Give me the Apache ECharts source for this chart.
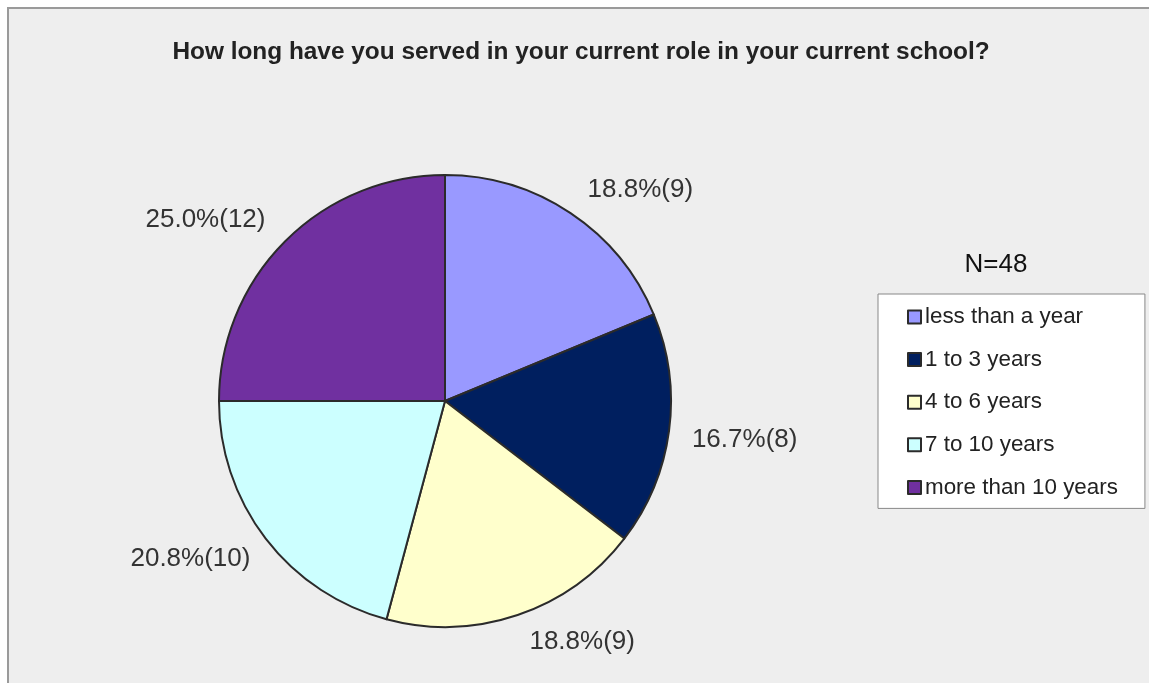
<!DOCTYPE html>
<html>
<head>
<meta charset="utf-8">
<script src="https://cdn.jsdelivr.net/npm/echarts@6/dist/echarts.min.js"></script>
<style>
  html, body { margin: 0; padding: 0; background: #ffffff; }
  #chart { width: 1149px; height: 683px; }
</style>
</head>
<body>
<div id="chart"></div>
<script>
// Survey answers: time served in current role at current school
const chartTitle = 'How long have you served in your current role in your current school?';
const sampleNote = 'N=48';
const categories = ['less than a year', '1 to 3 years', '4 to 6 years', '7 to 10 years', 'more than 10 years'];
const counts = [9, 8, 9, 10, 12];
const colors = ['#9999FF', '#001F5F', '#FFFFCC', '#CCFFFF', '#7030A0'];

const total = counts.reduce((a, b) => a + b, 0);
const font = '"Liberation Sans", Arial, sans-serif';

// small per-slice shifts of the outside labels so they sit a bit like a spreadsheet's best-fit placement
const labelShift = [[-4, -8], [-6, 7], [-5, 10], [10, 9], [4, -9]];

const chart = echarts.init(document.getElementById('chart'), null, { renderer: 'canvas' });

chart.setOption({
  animation: false,
  backgroundColor: '#ffffff',
  graphic: [
    {
      type: 'rect',
      z: -10,
      silent: true,
      shape: { x: 8, y: 8, width: 1160, height: 700 },
      style: { fill: '#EEEEEE', stroke: '#9a9a9a', lineWidth: 2 }
    },
    {
      type: 'text',
      x: 581, y: 52,
      style: {
        text: chartTitle,
        font: 'bold 24.4px ' + font,
        fill: '#222222',
        textAlign: 'center',
        textVerticalAlign: 'middle'
      }
    },
    {
      type: 'text',
      x: 996, y: 265,
      style: {
        text: sampleNote,
        font: '26px ' + font,
        fill: '#111111',
        textAlign: 'center',
        textVerticalAlign: 'middle'
      }
    }
  ],
  legend: {
    orient: 'vertical',
    left: 878,
    top: 294,
    padding: [12, 27, 10, 29],
    itemGap: 20.6,
    itemWidth: 13,
    itemHeight: 13,
    icon: 'rect',
    backgroundColor: '#ffffff',
    borderColor: '#888888',
    borderWidth: 1,
    textStyle: { fontFamily: font, fontSize: 22.4, color: '#222222', padding: [0, 0, 0, -1] },
    data: categories
  },
  series: [
    {
      type: 'pie',
      center: [445, 401],
      radius: 226,
      startAngle: 90,
      clockwise: true,
      avoidLabelOverlap: false,
      itemStyle: { borderColor: '#2b2b2b', borderWidth: 2 },
      label: {
        show: true,
        position: 'outside',
        fontFamily: font,
        fontSize: 26,
        color: '#333333',
        formatter: p => (p.value / total * 100).toFixed(1) + '%(' + p.value + ')'
      },
      labelLine: { show: false, length: 18, length2: 6 },
      labelLayout: p => ({ dx: labelShift[p.dataIndex][0], dy: labelShift[p.dataIndex][1] }),
      emphasis: { disabled: true },
      data: categories.map((name, i) => ({
        name: name,
        value: counts[i],
        itemStyle: { color: colors[i] }
      }))
    }
  ]
});
</script>
</body>
</html>
